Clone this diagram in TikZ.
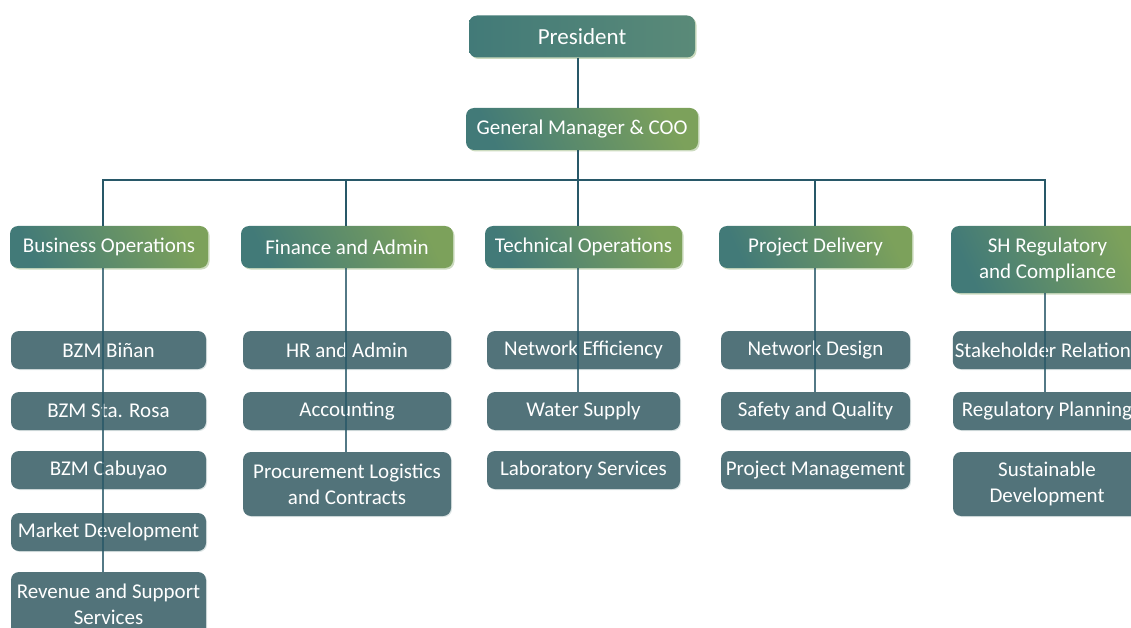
\documentclass[tikz,border=0pt]{standalone}
\usepackage{fontspec}
\setmainfont{Carlito}
\usetikzlibrary{shadows}

\definecolor{headteal}{HTML}{427A78}
\definecolor{headgreen}{HTML}{7CA15B}
\definecolor{presgreen}{HTML}{5A8A78}
\definecolor{unitfill}{HTML}{52737A}
\definecolor{linkcol}{HTML}{285868}
\definecolor{rimcol}{HTML}{CCDBBF}
\definecolor{unitrim}{HTML}{DCE4E4}

\tikzset{box/.style={rounded corners=8pt,text=white,align=center,inner sep=2pt,font=\fontsize{21}{26}\selectfont}}
\tikzset{head/.style={box,minimum height=42pt,left color=headteal,right color=headgreen,shading angle=115,
    general shadow={fill=rimcol,shadow xshift=1.5pt,shadow yshift=-1.5pt}}}
\tikzset{unit/.style={box,minimum height=38pt,fill=unitfill,
    general shadow={fill=unitrim,shadow xshift=1pt,shadow yshift=-1pt}}}
\tikzset{link/.style={draw=linkcol,line width=2.8pt}}

\begin{document}
\begin{tikzpicture}[x=1pt,y=-1pt]
	\clip (0,0) rectangle (1131,628);
	% president and general manager
	\node[head,minimum width=226pt,right color=presgreen] (pres) at (582,36.5) {\fontsize{23}{26}\selectfont President};
	\node[head,minimum width=232pt] (gm) at (582,129) {General Manager \& COO};
	\coordinate (bus) at (578,180);
	% departments
	\node[head,minimum width=198pt] (bo) at (109,247) {Business Operations};
	\node[head,minimum width=212pt] (fin) at (347,247) {Finance and Admin};
	\node[head,minimum width=197pt] (tech) at (583.5,247) {Technical Operations};
	\node[head,minimum width=193pt] (pd) at (815.5,247) {Project Delivery};
	\node[head,minimum width=193pt,minimum height=67pt] (sh) at (1047.5,259.5) {SH Regulatory\\and Compliance};
	% stems of each department sit a little off centre
	\coordinate (bostem) at (103,180);
	\coordinate (finstem) at (346,180);
	\coordinate (pdstem) at (815,180);
	\coordinate (shstem) at (1045,180);
	\draw[link] (pres.south -| bus) -- (gm.north -| bus);
	\draw[link] (gm.south -| bus) -- (tech.north -| bus);
	\draw[link] (bo.north -| bostem) -- (bostem) -- (shstem) -- (sh.north -| shstem);
	\draw[link] (fin.north -| finstem) -- (finstem);
	\draw[link] (pd.north -| pdstem) -- (pdstem);
	% business operations units
	\node[unit,minimum width=195pt] (binan) at (108.5,350) {BZM Biñan};
	\node[unit,minimum width=195pt] (starosa) at (108.5,411) {BZM Sta. Rosa};
	\node[unit,minimum width=195pt] (cabuyao) at (108.5,470) {BZM Cabuyao};
	\node[unit,minimum width=195pt] (market) at (108.5,532) {Market Development};
	\node[unit,minimum width=195pt,minimum height=64pt] (revenue) at (108.5,604) {Revenue and Support\\Services};
	% finance units
	\node[unit,minimum width=208pt] (hr) at (347,350) {HR and Admin};
	\node[unit,minimum width=208pt] (acct) at (347,411) {Accounting};
	\node[unit,minimum width=208pt,minimum height=64pt] (proc) at (347,484) {Procurement Logistics\\and Contracts};
	% technical units
	\node[unit,minimum width=193pt] (neteff) at (583.5,350) {Network Efficiency};
	\node[unit,minimum width=193pt] (water) at (583.5,411) {Water Supply};
	\node[unit,minimum width=193pt] (lab) at (583.5,470) {Laboratory Services};
	% project units
	\node[unit,minimum width=189pt] (netdes) at (815.5,350) {Network Design};
	\node[unit,minimum width=189pt] (safety) at (815.5,411) {Safety and Quality};
	\node[unit,minimum width=189pt] (projman) at (815.5,470) {Project Management};
	% regulatory units
	\node[unit,minimum width=188pt] (stake) at (1047,350) {Stakeholder Relations};
	\node[unit,minimum width=188pt] (regplan) at (1047,411) {Regulatory Planning};
	\node[unit,minimum width=188pt,minimum height=64pt] (sustain) at (1047,484) {Sustainable\\Development};
	% stems running down each column
	\draw[link,opacity=.8] (bo.south -| bostem) -- (revenue.north -| bostem);
	\draw[link,opacity=.8] (fin.south -| finstem) -- (proc.north -| finstem);
	\draw[link,opacity=.8] (tech.south -| bus) -- (water.north -| bus);
	\draw[link,opacity=.8] (pd.south -| pdstem) -- (safety.north -| pdstem);
	\draw[link,opacity=.8] (sh.south -| shstem) -- (regplan.north -| shstem);
\end{tikzpicture}
\end{document}
